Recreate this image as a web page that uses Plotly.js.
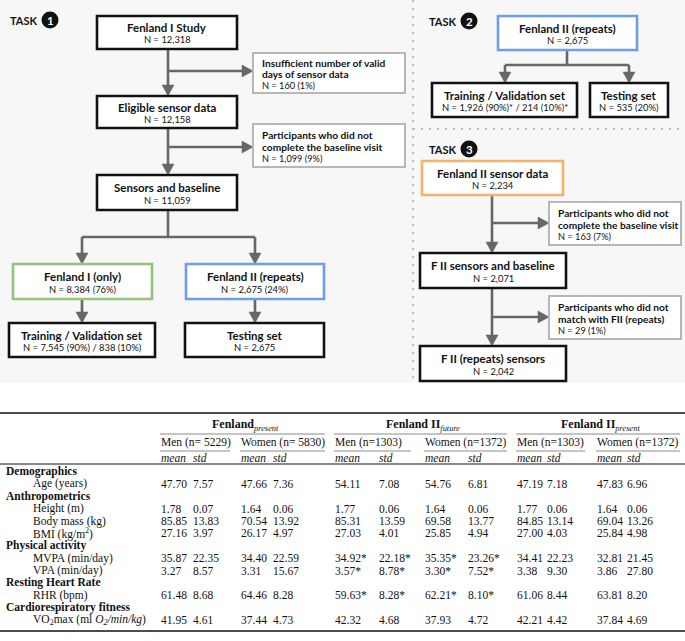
<!DOCTYPE html>
<html><head><meta charset="utf-8">
<script src="https://cdn.plot.ly/plotly-3.0.1.min.js"></script>
<style>html,body{margin:0;padding:0;background:#fff}#chart{width:685px;height:641px}</style>
</head><body><div id="chart"></div>
<script>
// ================= DATA =================
// Flowchart, task 1
const task1Titles = ['Fenland I Study','Eligible sensor data','Sensors and baseline','Fenland I (only)','Fenland II (repeats)','Training / Validation set','Testing set'];
const task1Counts = ['N = 12,318','N = 12,158','N = 11,059','N = 8,384 (76%)','N = 2,675 (24%)','N = 7,545 (90%) / 838 (10%)','N = 2,675'];
const task1Exclusions = [['Insufficient number of valid','days of sensor data'],['Participants who did not','complete the baseline visit']];
const task1ExclusionCounts = ['N = 160 (1%)','N = 1,099 (9%)'];
// task 2
const task2Titles = ['Fenland II (repeats)','Training / Validation set','Testing set'];
const task2Counts = ['N = 2,675','N = 1,926 (90%)* / 214 (10%)*','N = 535 (20%)'];
// task 3
const task3Titles = ['Fenland II sensor data','F II sensors and baseline','F II (repeats) sensors'];
const task3Counts = ['N = 2,234','N = 2,071','N = 2,042'];
const task3Exclusions = [['Participants who did not','complete the baseline visit'],['Participants who did not','match with FII (repeats)']];
const task3ExclusionCounts = ['N = 163 (7%)','N = 29 (1%)'];
const taskLabel = 'TASK';
const taskNumbers = ['1','2','3'];

// Table
const groupHeaders = ['<b>Fenland</b><sub><i>present</i></sub>','<b>Fenland II</b><sub><i>future</i></sub>','<b>Fenland II</b><sub><i>present</i></sub>'];
const subHeaders = ['Men (n= 5229)','Women (n= 5830)','Men (n=1303)','Women (n=1372)','Men (n=1303)','Women (n=1372)'];
const statHeaders = ['mean','std'];
const sectionNames = ['Demographics','Anthropometrics','Physical activity','Resting Heart Rate','Cardiorespiratory fitness'];
const sectionSizes = [1,3,2,1,1];
const rowLabels = ['Age (years)','Height (m)','Body mass (kg)','BMI (kg/m<sup>2</sup>)','MVPA (min/day)','VPA (min/day)','RHR (bpm)','VO<sub>2</sub>max (ml <i>O<sub>2</sub>/min/kg</i>)'];
const fpMenMean   = [47.70,1.78,85.85,27.16,35.87,3.27,61.48,41.95];
const fpMenStd    = [7.57,0.07,13.83,3.97,22.35,8.57,8.68,4.61];
const fpWomenMean = [47.66,1.64,70.54,26.17,34.40,3.31,64.46,37.44];
const fpWomenStd  = [7.36,0.06,13.92,4.97,22.59,15.67,8.28,4.73];
const f2fMenMean   = [54.11,1.77,85.31,27.03,34.92,3.57,59.63,42.32];
const f2fMenStd    = [7.08,0.06,13.59,4.01,22.18,8.78,8.28,4.68];
const f2fWomenMean = [54.76,1.64,69.58,25.85,35.35,3.30,62.21,37.93];
const f2fWomenStd  = [6.81,0.06,13.77,4.94,23.26,7.52,8.10,4.72];
const f2pMenMean   = [47.19,1.77,84.85,27.00,34.41,3.38,61.06,42.21];
const f2pMenStd    = [7.18,0.06,13.14,4.03,22.23,9.30,8.44,4.42];
const f2pWomenMean = [47.83,1.64,69.04,25.84,32.81,3.86,63.81,37.84];
const f2pWomenStd  = [6.96,0.06,13.26,4.98,21.45,27.80,8.20,4.69];
const starredRows = [false,false,false,false,true,true,true,false]; // marked in Fenland II future
const columnSeries = [
  [fpMenMean,fpMenStd,false],[fpWomenMean,fpWomenStd,false],
  [f2fMenMean,f2fMenStd,true],[f2fWomenMean,f2fWomenStd,true],
  [f2pMenMean,f2pMenStd,false],[f2pWomenMean,f2pWomenStd,false]
];

// ================= DRAWING =================
const shapes = [], ann = [];
const SANS = 'Lato, "Open Sans", sans-serif';
const SERIF = '"Liberation Serif", "Times New Roman", serif';
const INK = '#111';
function rect(x0,x1,y0,y1,color,lw,fill,layer){
  shapes.push({type:'rect',xref:'x',yref:'y',x0:x0,x1:x1,y0:y0,y1:y1,line:{color:color,width:lw},fillcolor:fill,layer:layer||'above'});
}
function seg(x0,y0,x1,y1,color,w,dash){
  shapes.push({type:'line',xref:'x',yref:'y',x0:x0,y0:y0,x1:x1,y1:y1,line:{color:color,width:w,dash:dash||'solid'}});
}
function txt(x,y,t,size,opts,font,color){
  ann.push(Object.assign({x:x,y:y,xref:'x',yref:'y',text:t,showarrow:false,
    font:{family:font||SANS,size:size,color:color||INK},xanchor:'center',yanchor:'middle'},opts||{}));
}
const AC='#676767', AW=2.6, AH=11, AHW=6;
function arrow(x0,y0,x1,y1){
  const dx=Math.sign(x1-x0), dy=Math.sign(y1-y0);
  const bx=x1-dx*AH, by=y1-dy*AH;
  seg(x0,y0,bx,by,AC,AW);
  let p;
  if(dx!==0) p=`M${x1},${y1} L${bx},${y1-AHW} L${bx},${y1+AHW} Z`;
  else p=`M${x1},${y1} L${x1-AHW},${by} L${x1+AHW},${by} Z`;
  shapes.push({type:'path',xref:'x',yref:'y',path:p,fillcolor:AC,line:{color:AC,width:0.5}});
}
const BOXSTYLE = {black:['#111',2.6],green:['#93c47d',2.6],blue:['#6d9eeb',2.6],orange:['#f6b26b',2.6],grey:['#b7b7b7',2]};
function box(g,style,title,count){
  const [x0,x1,y0,y1]=g, s=BOXSTYLE[style];
  rect(x0,x1,y0,y1,s[0],s[1],'#ffffff');
  const cx=(x0+x1)/2, h=y1-y0;
  txt(cx,y0+0.36*h,'<b>'+title+'</b>',11.5);
  txt(cx,y0+0.72*h,count,9.4);
}
function exclBox(g,lines,count){
  const [x0,x1,y0,y1]=g;
  rect(x0,x1,y0,y1,BOXSTYLE.grey[0],BOXSTYLE.grey[1],'#ffffff');
  const h=y1-y0;
  txt(x0+7,y0+0.25*h,'<b>'+lines[0]+'</b>',10.2,{xanchor:'left'});
  txt(x0+7,y0+0.53*h,'<b>'+lines[1]+'</b>',10.2,{xanchor:'left'});
  txt(x0+7,y0+0.80*h,count,9.2,{xanchor:'left'});
}
function taskTag(x,y,num){
  txt(x,y,'<b>'+taskLabel+'</b>',11,{xanchor:'left'});
  const cx=x+42;
  shapes.push({type:'circle',xref:'x',yref:'y',x0:cx-8.5,x1:cx+8.5,y0:y-8.5,y1:y+8.5,fillcolor:'#111',line:{color:'#111',width:0}});
  txt(cx,y+0.5,'<b>'+num+'</b>',11.5,null,SANS,'#ffffff');
}

// panel background and separators
rect(0,685,0,383,'#f7f7f7',0,'#f7f7f7','below');
seg(413,0,413,383,'#bdbdbd',2,'2px,6px');
seg(413,129,685,129,'#bdbdbd',2,'2px,6px');

// ---- Task 1 ----
taskTag(8,20,taskNumbers[0]);
const g1=[[97,237,16,49],[97,237,96,128],[97,237,175,210],[13,152,264,299],[186,324,264,299],[9,155,323,357],[185,324,323,357]];
const s1=['black','black','black','green','blue','black','black'];
arrow(168,49,168,96); arrow(168,71,253,71);
arrow(168,128,168,175); arrow(168,147,253,147);
seg(168,210,168,237,AC,AW); seg(82,237,255,237,AC,AW);
arrow(82,237,82,264); arrow(255,237,255,264);
arrow(82,299,82,323); arrow(255,299,255,323);
g1.forEach((g,i)=>box(g,s1[i],task1Titles[i],task1Counts[i]));
exclBox([253,405,53,93],task1Exclusions[0],task1ExclusionCounts[0]);
exclBox([253,405,124,167],task1Exclusions[1],task1ExclusionCounts[1]);

// ---- Task 2 ----
taskTag(427,21,taskNumbers[1]);
const g2=[[498,637,16,50],[432,577,83,117],[590,668,83,117]];
const s2=['blue','black','black'];
seg(567,50,567,65,AC,AW); seg(505,65,629,65,AC,AW);
arrow(505,65,505,83); arrow(629,65,629,83);
g2.forEach((g,i)=>box(g,s2[i],task2Titles[i],task2Counts[i]));

// ---- Task 3 ----
taskTag(427,149,taskNumbers[2]);
const g3=[[422,563,161,195],[420,566,253,288],[420,566,346,381]];
const s3=['orange','black','black'];
arrow(492,195,492,253); arrow(492,223,549,223);
arrow(492,288,492,346); arrow(492,317,549,317);
g3.forEach((g,i)=>box(g,s3[i],task3Titles[i],task3Counts[i]));
exclBox([549,681,202,245],task3Exclusions[0],task3ExclusionCounts[0]);
exclBox([549,681,296,339],task3Exclusions[1],task3ExclusionCounts[1]);

// ---- Table ----
const meanX=[160,240,334,424,516,596], stdX=[192,272,378,467,546,626];
const groupSpan=[[160,330],[334,512],[516,685]];
const subSpan=[[160,235],[240,330],[334,416],[424,512],[516,590],[596,685]];
const TS=11.5;
const yTop=413, yGroup=425, yCmid1=434, ySub=442.5, yCmid2=451, yStat=457.5, yRule=464;
seg(0,yTop,685,yTop,'#111',1.6);
groupHeaders.forEach((h,i)=>txt((groupSpan[i][0]+groupSpan[i][1])/2,yGroup,h,12,null,SERIF));
groupSpan.forEach(s=>seg(s[0],yCmid1,s[1]-5,yCmid1,'#8a8a8a',1));
subHeaders.forEach((h,i)=>txt(meanX[i]-1,ySub,h,TS,{xanchor:'left'},SERIF));
subSpan.forEach(s=>seg(s[0],yCmid2,s[1]-5,yCmid2,'#8a8a8a',1));
meanX.forEach((x,i)=>{
  txt(x-1,yStat,'<i>'+statHeaders[0]+'</i>',TS,{xanchor:'left'},SERIF);
  txt(stdX[i]-1,yStat,'<i>'+statHeaders[1]+'</i>',TS,{xanchor:'left'},SERIF);
});
seg(0,yRule,685,yRule,'#111',1);
const y0rows=471.5, dy=12.38;
let line=0, r=0;
sectionNames.forEach((name,si)=>{
  txt(4,y0rows+line*dy,'<b>'+name+'</b>',TS,{xanchor:'left'},SERIF); line++;
  for(let k=0;k<sectionSizes[si];k++){
    const y=y0rows+line*dy;
    txt(31,y,rowLabels[r],TS,{xanchor:'left'},SERIF);
    columnSeries.forEach((c,ci)=>{
      const star=(c[2]&&starredRows[r])?'*':'';
      txt(meanX[ci]-1,y,c[0][r].toFixed(2)+star,TS,{xanchor:'left'},SERIF);
      txt(stdX[ci]-1,y,c[1][r].toFixed(2)+star,TS,{xanchor:'left'},SERIF);
    });
    line++; r++;
  }
});
const yBottom=y0rows+(line-1)*dy+11;
seg(0,yBottom,685,yBottom,'#111',1.6);

const layout={
  width:685,height:641,margin:{l:0,r:0,t:0,b:0,pad:0},
  paper_bgcolor:'#ffffff',plot_bgcolor:'#ffffff',showlegend:false,
  xaxis:{range:[0,685],visible:false,fixedrange:true},
  yaxis:{range:[641,0],visible:false,fixedrange:true},
  shapes:shapes,annotations:ann
};
Plotly.newPlot('chart',[{type:'scatter',x:[],y:[],hoverinfo:'skip'}],layout,{staticPlot:true,displayModeBar:false});
</script></body></html>
